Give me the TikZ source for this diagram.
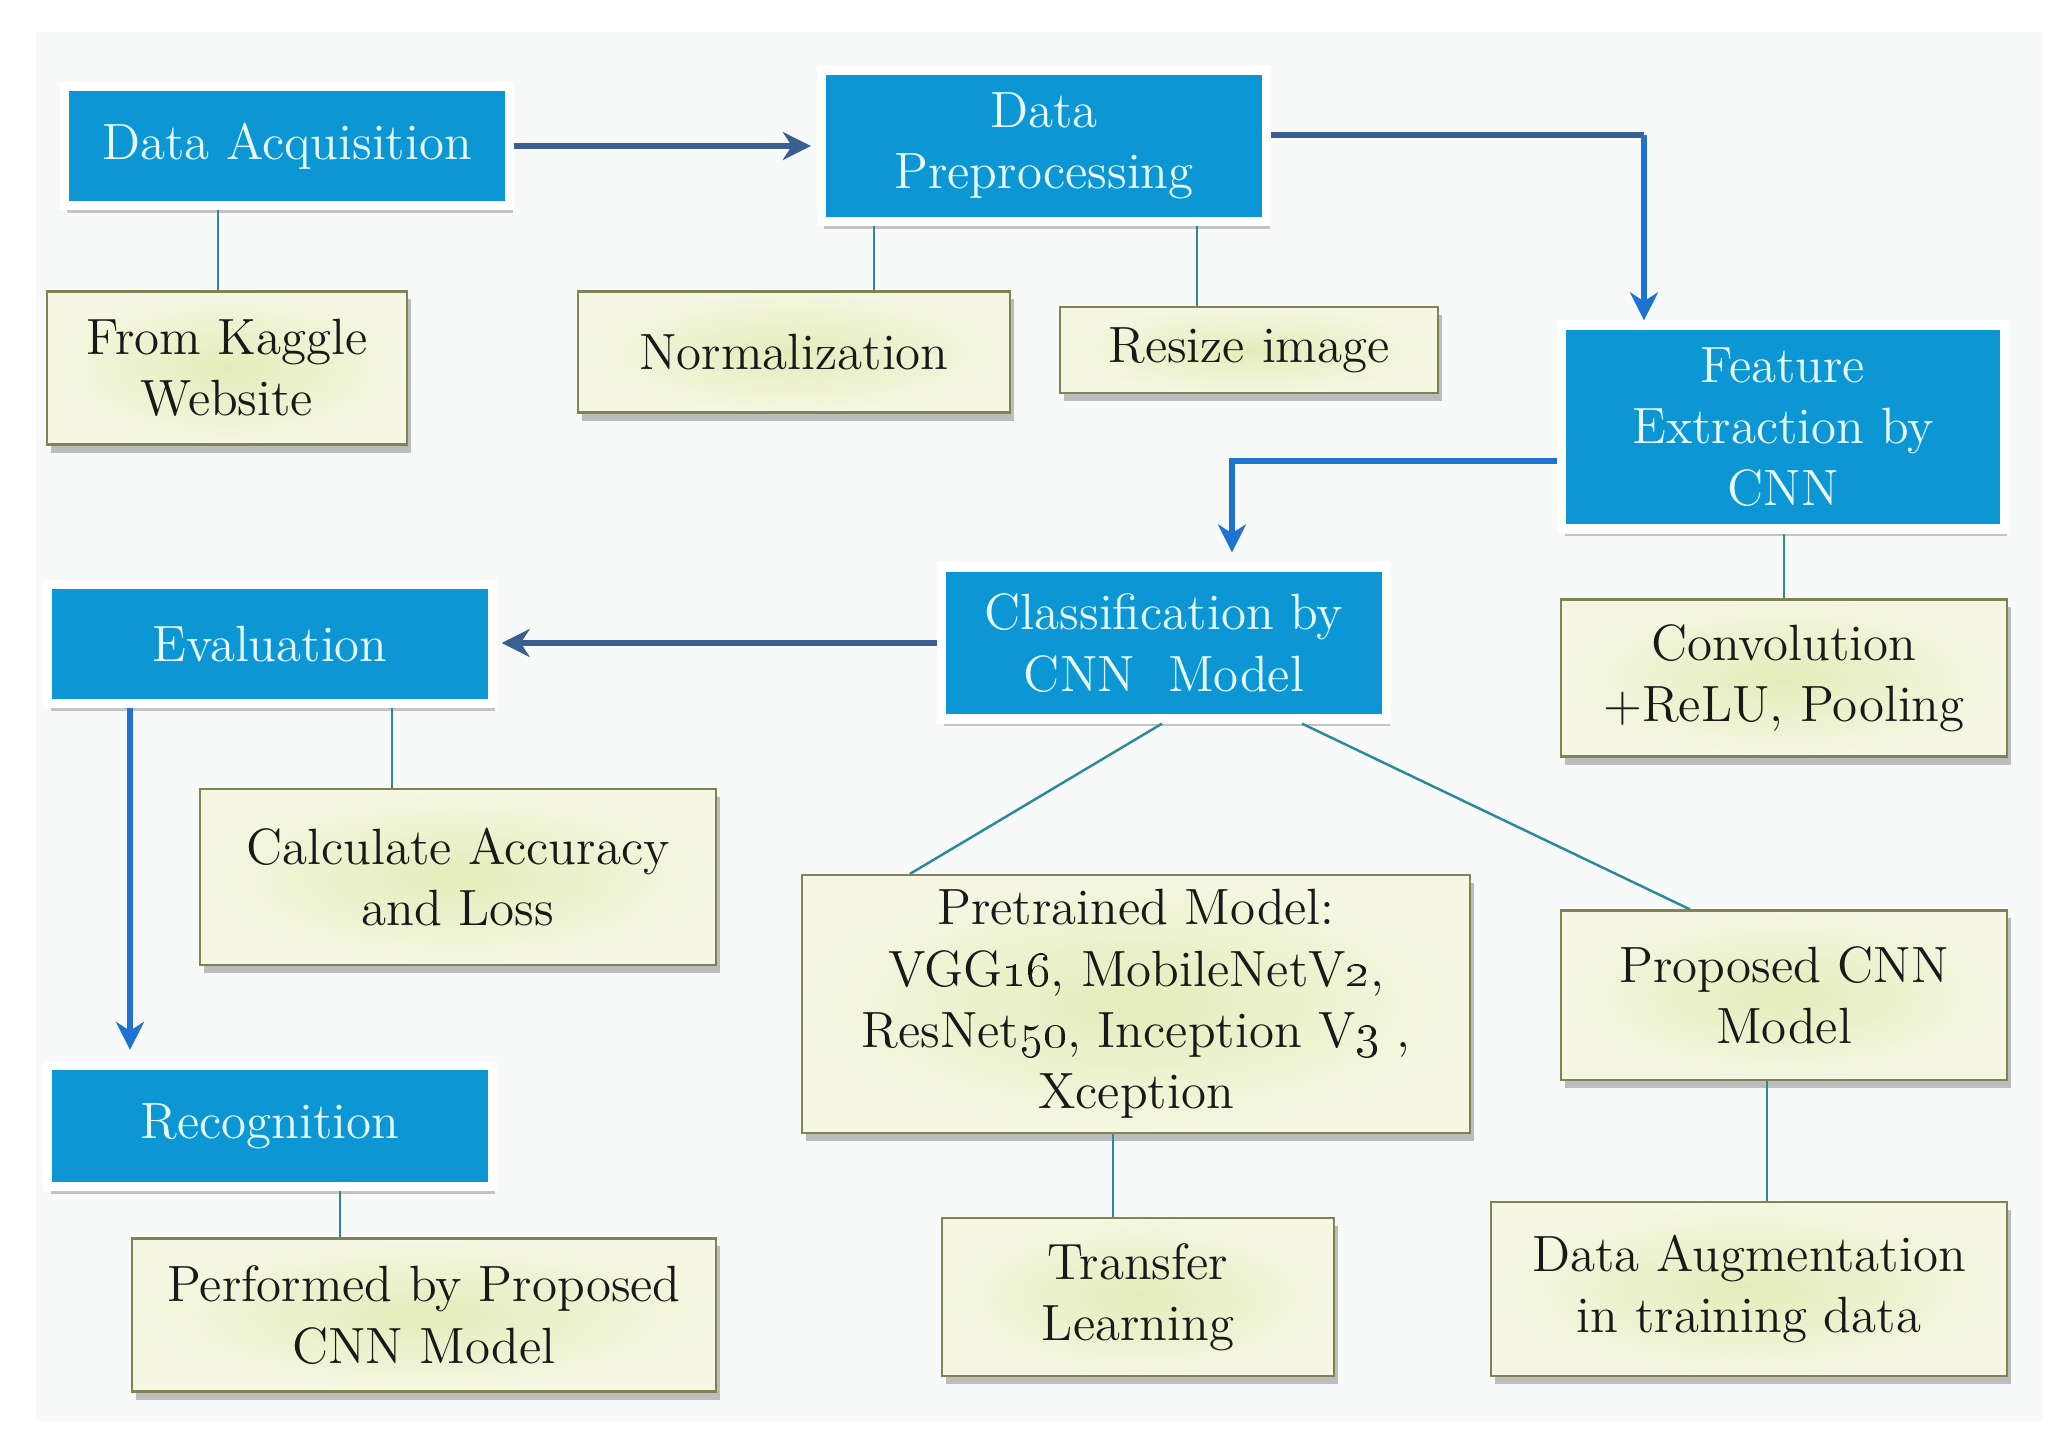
\documentclass[tikz,border=0pt]{standalone}
\usetikzlibrary{arrows.meta,shadows}
\definecolor{boxblue}{RGB}{12,150,212}
\definecolor{bluetext}{RGB}{232,252,255}
\definecolor{greenin}{RGB}{228,236,186}
\definecolor{greenout}{RGB}{245,247,226}
\definecolor{greenline}{RGB}{128,132,84}
\definecolor{linkteal}{RGB}{44,138,152}
\definecolor{arrowdark}{RGB}{58,96,146}
\definecolor{arrowbright}{RGB}{30,114,210}
\definecolor{panel}{RGB}{248,249,249}
\tikzset{
	bluebox/.style={rectangle, fill=boxblue, draw=white, line width=2.6pt, text=bluetext,
		drop shadow={shadow xshift=0.3mm, shadow yshift=-0.7mm, fill=black!70, opacity=0.3}},
	greenbox/.style={rectangle, inner color=greenin, outer color=greenout, draw=greenline,
		line width=0.6pt, text=black!90,
		drop shadow={shadow xshift=0.4mm, shadow yshift=-0.8mm, fill=black!70, opacity=0.35}},
	link/.style={draw=linkteal, line width=0.7pt},
	flowdark/.style={draw=arrowdark, line width=1.7pt,
		-{Stealth[length=2.8mm, width=2.8mm, inset=0.9mm]}},
	flowbright/.style={flowdark, draw=arrowbright},
}
\begin{document}
\begin{tikzpicture}[x=0.01cm, y=-0.01cm, every node/.style={align=center, inner sep=0pt,
		font=\fontsize{14.5}{17.4}\selectfont}]
\useasboundingbox (0,0) rectangle (2068,1433);
\fill[panel] (36,32) rectangle (2043,1421);
% steps
\node[bluebox, minimum width=44.5mm, minimum height=11.9mm] (acq) at (287,146) {Data Acquisition};
\node[bluebox, minimum width=44.5mm, minimum height=15.1mm] (prep) at (1044,146) {Data\\Preprocessing};
\node[bluebox, minimum width=44.2mm, minimum height=20.4mm] (feat) at (1783,427) {Feature\\Extraction by\\CNN};
\node[bluebox, minimum width=44.5mm, minimum height=15.2mm] (cls) at (1164,643) {Classification by\\CNN~~Model};
\node[bluebox, minimum width=44.4mm, minimum height=11.9mm] (eval) at (270,644) {Evaluation};
\node[bluebox, minimum width=44.4mm, minimum height=12.1mm] (rec) at (270,1126) {Recognition};
% details
\node[greenbox, minimum width=36mm, minimum height=15.3mm] (kaggle) at (227,368) {From Kaggle\\Website};
\node[greenbox, minimum width=43.2mm, minimum height=12.1mm] (norm) at (794,352) {Normalization};
\node[greenbox, minimum width=37.8mm, minimum height=8.6mm, text width=33mm] (resize) at (1249,350) {Resize image};
\node[greenbox, minimum width=44.5mm, minimum height=15.7mm] (conv) at (1784,678) {Convolution\\+ReLU, Pooling};
\node[greenbox, minimum width=51.5mm, minimum height=17.6mm] (calc) at (458,877) {Calculate Accuracy\\and Loss};
\node[greenbox, minimum width=58.4mm, minimum height=15.3mm] (perf) at (424,1315) {Performed by Proposed\\CNN Model};
\node[greenbox, minimum width=66.7mm, minimum height=25.8mm] (pre) at (1136,1004) {Pretrained Model:\\VGG\oldstylenums{16}, MobileNetV\oldstylenums{2},\\ResNet\oldstylenums{50}, Inception V\oldstylenums{3} ,\\Xception};
\node[greenbox, minimum width=39.2mm, minimum height=15.8mm] (trans) at (1138,1297) {Transfer\\Learning};
\node[greenbox, minimum width=44.5mm, minimum height=16.9mm] (prop) at (1784,995) {Proposed CNN\\Model};
\node[greenbox, minimum width=51.5mm, minimum height=17.4mm] (aug) at (1749,1289) {Data Augmentation\\in training data};
% thin links
\foreach \u/\v/\p in {%
	acq/kaggle/218%
	,prep/norm/874%
	,prep/resize/1197%
	,feat/conv/1784%
	,eval/calc/392%
	,rec/perf/340%
	,pre/trans/1113%
	,prop/aug/1767%
}{
\draw[link] (\u.south -| \p,0) -- (\v.north -| \p,0);
}
\draw[link] (cls.south -| 1162,0) -- (pre.north -| 910,0);
\draw[link] (cls.south -| 1302,0) -- (prop.north -| 1690,0);
% flow arrows
\coordinate (c1) at (1644,135);
\coordinate (c2) at (1232,461);
\coordinate (c3) at (130,0);
\draw[flowdark, shorten >=0.6mm] (acq.east) -- (prep.west);
\draw[flowdark, -] (prep.east |- c1) -- (c1);
\draw[flowbright] (c1) -- (c1 |- feat.north);
\draw[flowbright, shorten >=1mm] (feat.west |- c2) -- (c2) -- (c2 |- cls.north);
\draw[flowdark, shorten >=0.5mm] (cls.west) -- (cls.west -| eval.east);
\draw[flowbright, shorten >=1.1mm] (eval.south -| c3) -- (rec.north -| c3);
\end{tikzpicture}
\end{document}
